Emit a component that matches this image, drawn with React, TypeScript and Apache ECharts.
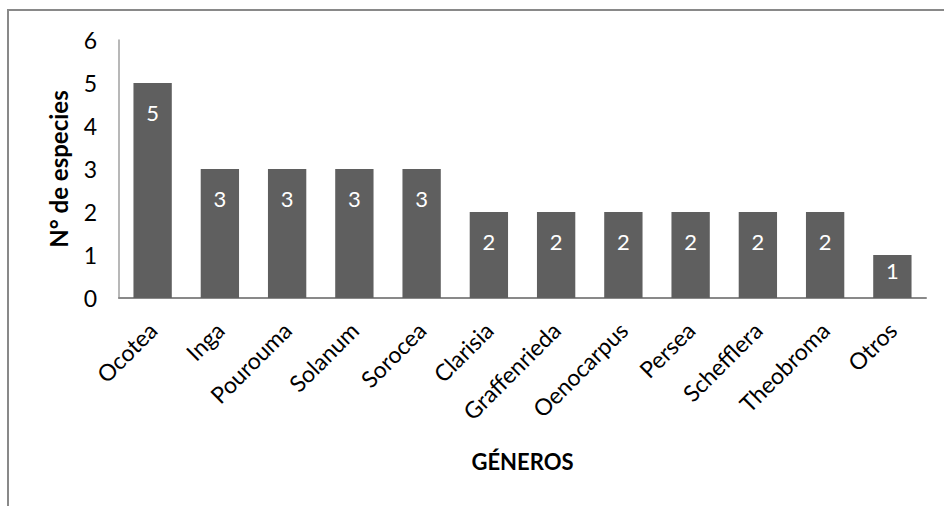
import React, { useEffect, useRef } from "react";
import * as echarts from "echarts";

const categories = ["Ocotea", "Inga", "Pourouma", "Solanum", "Sorocea", "Clarisia", "Graffenrieda", "Oenocarpus", "Persea", "Schefflera", "Theobroma", "Otros"];
const values = [5, 3, 3, 3, 3, 2, 2, 2, 2, 2, 2, 1];
const yTicks = [0, 1, 2, 3, 4, 5, 6];

const FONT = "Lato, 'Open Sans', sans-serif";

export default function App() {
  const ref = useRef<HTMLDivElement>(null);
  useEffect(() => {
    if (!ref.current) return;
    const chart = echarts.init(ref.current, undefined, { renderer: "svg" });
    const barData = values.map((v) => (v < 2 ? { value: v, label: { distance: 4 } } : v));
    chart.setOption({
      animation: false,
      backgroundColor: "#ffffff",
      textStyle: { fontFamily: FONT },
      graphic: [
        {
          type: "rect",
          shape: { x: 8, y: 10, width: 1000, height: 1000 },
          style: { fill: "none", stroke: "#898989", lineWidth: 2 },
          silent: true,
        },
      ],
      grid: { left: 119, right: 18, top: 40, bottom: 208 },
      xAxis: {
        type: "category",
        data: categories,
        name: "GÉNEROS",
        nameLocation: "middle",
        nameGap: 152,
        nameTextStyle: { fontFamily: FONT, fontWeight: "bold", fontSize: 22, color: "#000", verticalAlign: "top" },
        axisLine: { lineStyle: { color: "#898989", width: 2 } },
        axisTick: { show: false },
        axisLabel: { rotate: 45, fontSize: 23, color: "#000", margin: 28, fontFamily: FONT, interval: 0 },
      },
      yAxis: {
        type: "value",
        min: yTicks[0],
        max: yTicks[yTicks.length - 1],
        interval: 1,
        name: "N° de especies",
        nameLocation: "middle",
        nameGap: 49,
        nameTextStyle: { fontFamily: FONT, fontWeight: "bold", fontSize: 24, color: "#000" },
        axisLine: { show: true, lineStyle: { color: "#a0a0a0", width: 1.5 } },
        axisTick: { show: false },
        splitLine: { show: false },
        axisLabel: { fontSize: 23, color: "#000", margin: 22, fontFamily: FONT },
      },
      series: [
        {
          type: "bar",
          data: barData,
          barCategoryGap: "43%",
          itemStyle: { color: "#5f5f5f" },
          label: {
            show: true,
            position: "insideTop",
            distance: 18,
            color: "#ffffff",
            fontSize: 22,
            fontFamily: FONT,
          },
        },
      ],
    });
    return () => chart.dispose();
  }, []);
  return <div ref={ref} style={{ position: "fixed", left: 0, top: 0, width: 944, height: 506 }} />;
}
